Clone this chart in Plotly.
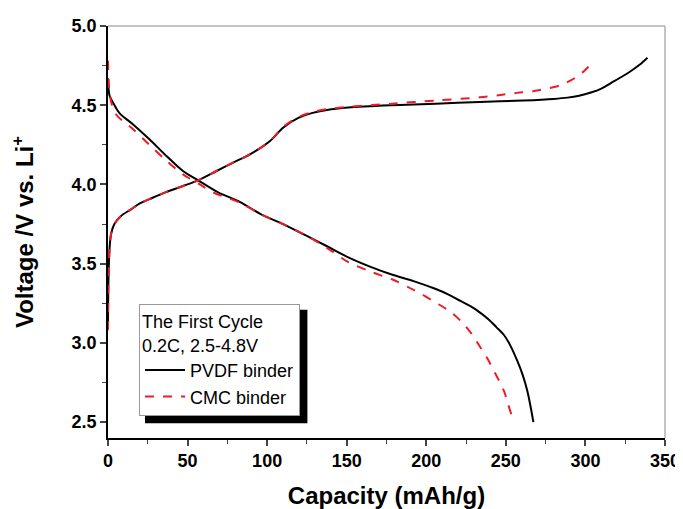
import plotly.graph_objects as go

# PVDF binder (first charge / discharge)
pvdf_charge_x = [0, 0.3, 1, 2, 4, 8, 14, 20, 26, 36, 47.1, 56.6, 68.2, 78, 89.2, 101.8, 110.2, 119.6, 128, 137.6, 151, 178.7, 206, 233.5, 261, 280, 288.7, 296, 303.4, 310, 316, 322, 328.6, 334, 339]
pvdf_charge_y = [3.1, 3.4, 3.6, 3.69, 3.75, 3.8, 3.84, 3.88, 3.907, 3.95, 3.99, 4.026, 4.085, 4.135, 4.19, 4.274, 4.36, 4.42, 4.45, 4.47, 4.485, 4.5, 4.51, 4.52, 4.53, 4.54, 4.548, 4.56, 4.58, 4.605, 4.64, 4.675, 4.716, 4.755, 4.8]
pvdf_dis_x = [0, 0.3, 1, 4.1, 7.2, 15.6, 26, 36.7, 47.1, 56.6, 69.2, 82.8, 96.5, 110, 124, 137.6, 151, 165, 178.7, 192, 206, 214, 221.5, 228, 234, 239, 244, 248.8, 253, 257.2, 260.5, 263.5, 265.5, 267.3]
pvdf_dis_y = [4.67, 4.61, 4.56, 4.5, 4.45, 4.38, 4.285, 4.18, 4.085, 4.026, 3.95, 3.89, 3.81, 3.75, 3.68, 3.61, 3.54, 3.48, 3.43, 3.39, 3.34, 3.305, 3.265, 3.23, 3.19, 3.15, 3.1, 3.05, 2.98, 2.886, 2.8, 2.697, 2.6, 2.5]

# CMC binder (first charge / discharge)
cmc_charge_x = [0, 0.3, 1, 2, 4, 8, 14, 20, 26, 36, 47.1, 56.6, 68.2, 78, 89.2, 101.8, 110.2, 119.6, 128, 137.6, 151, 178.7, 206, 233.5, 246.7, 257, 267.7, 280.3, 286, 290.8, 295, 299.2, 304.5]
cmc_charge_y = [3.08, 3.4, 3.6, 3.69, 3.75, 3.8, 3.84, 3.88, 3.907, 3.95, 3.99, 4.026, 4.085, 4.135, 4.19, 4.274, 4.365, 4.425, 4.455, 4.475, 4.49, 4.51, 4.53, 4.55, 4.565, 4.578, 4.59, 4.615, 4.633, 4.657, 4.683, 4.716, 4.77]
cmc_dis_x = [0, 0.3, 1, 2.5, 5.2, 15.6, 26, 36.7, 47.1, 57.7, 66, 82.8, 96.5, 110, 124, 137.6, 151, 165, 178.7, 192, 207.8, 216, 223.6, 229, 234.1, 238.5, 242.5, 245.8, 248.8, 251.2, 253.4]
cmc_dis_y = [4.78, 4.68, 4.58, 4.5, 4.44, 4.35, 4.25, 4.15, 4.064, 4.0, 3.95, 3.885, 3.81, 3.75, 3.68, 3.6, 3.51, 3.45, 3.4, 3.335, 3.244, 3.19, 3.118, 3.05, 2.97, 2.9, 2.823, 2.76, 2.697, 2.62, 2.55]

x_ticks = [0, 50, 100, 150, 200, 250, 300, 350]
y_ticks = [2.5, 3.0, 3.5, 4.0, 4.5, 5.0]
y_ticktext = ["2.5", "3.0", "3.5", "4.0", "4.5", "5.0"]

font = "Liberation Sans, Arial, sans-serif"
black_line = dict(color="black", width=2, shape="spline", smoothing=0.9)
red_line = dict(color="#ee1c24", width=2, dash="dash", shape="spline", smoothing=0.9)

fig = go.Figure()
fig.add_trace(go.Scatter(x=pvdf_charge_x, y=pvdf_charge_y, mode="lines", name="PVDF binder",
                         line=black_line, legendgroup="p"))
fig.add_trace(go.Scatter(x=pvdf_dis_x, y=pvdf_dis_y, mode="lines", name="PVDF binder", showlegend=False,
                         line=black_line, legendgroup="p"))
fig.add_trace(go.Scatter(x=cmc_charge_x, y=cmc_charge_y, mode="lines", name="CMC binder",
                         line=red_line, legendgroup="c"))
fig.add_trace(go.Scatter(x=cmc_dis_x, y=cmc_dis_y, mode="lines", name="CMC binder", showlegend=False,
                         line=red_line, legendgroup="c"))

# legend drop shadow (legend itself is drawn on top of shapes)
fig.add_shape(type="rect", xref="paper", yref="paper", x0=0.0664, x1=0.358, y0=0.036, y1=0.311,
              fillcolor="black", line=dict(width=0), layer="above")
# top and right frame (gray)
fig.add_shape(type="line", xref="paper", yref="paper", x0=0, x1=1, y0=1, y1=1,
              line=dict(color="#b0b0b0", width=1.5))
fig.add_shape(type="line", xref="paper", yref="paper", x0=1, x1=1, y0=0, y1=1,
              line=dict(color="#b0b0b0", width=1.5))

# the page body has an 8px margin, so the figure is shrunk by 8px and margins shifted
fig.update_layout(
    width=675, height=501,
    margin=dict(l=100, r=18, t=18, b=71),
    paper_bgcolor="white", plot_bgcolor="white",
    font=dict(family=font, color="black"),
    showlegend=True,
    legend=dict(x=0.0557, y=0.325, xanchor="left", yanchor="top",
                bgcolor="white", bordercolor="#999999", borderwidth=1,
                font=dict(size=18, family=font),
                title=dict(text="The First Cycle<br>0.2C, 2.5-4.8V", font=dict(size=18, family=font)),
                itemwidth=40, tracegroupgap=0),
    xaxis=dict(range=[0, 350], tickvals=x_ticks, ticks="outside", ticklen=6, tickwidth=1.5,
               showline=True, linecolor="black", linewidth=1.5, showgrid=False, zeroline=False,
               automargin=False,
               tickfont=dict(size=18, family=font, weight="bold"),
               minor=dict(ticks="outside", ticklen=4, tickwidth=1, dtick=25, tick0=0),
               title=dict(text="<b>Capacity (mAh/g)</b>", font=dict(size=24, family=font), standoff=19)),
    yaxis=dict(range=[2.4, 5.0], tickvals=y_ticks, ticktext=y_ticktext,
               ticks="outside", ticklen=6, tickwidth=1.5,
               showline=True, linecolor="black", linewidth=1.5, showgrid=False, zeroline=False,
               automargin=False,
               tickfont=dict(size=18, family=font, weight="bold"),
               minor=dict(ticks="outside", ticklen=4, tickwidth=1, dtick=0.25, tick0=2.5),
               title=dict(text="<b>Voltage /V vs. Li<sup>+</sup></b>", font=dict(size=24, family=font), standoff=34)),
)

fig.write_html("out.html")
